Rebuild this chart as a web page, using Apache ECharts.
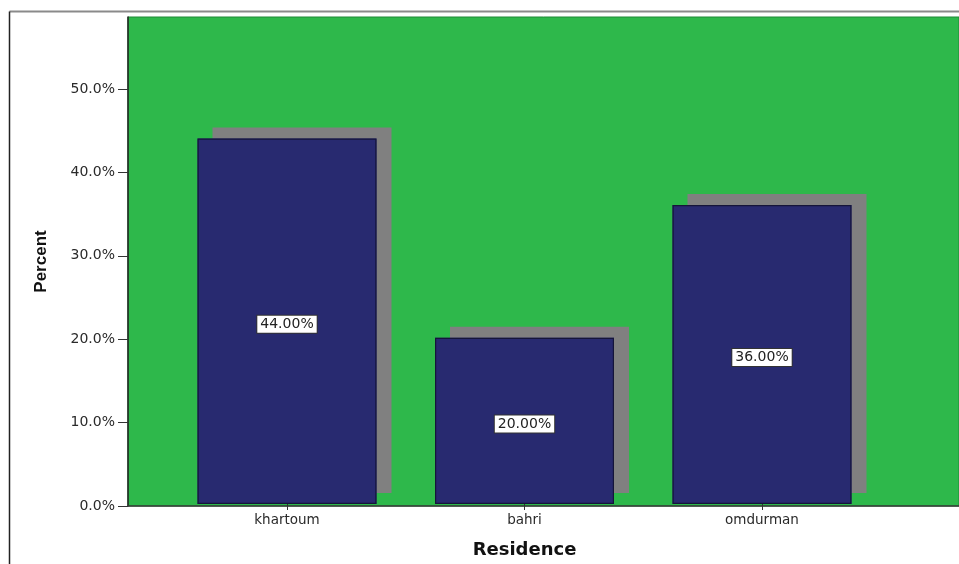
<!DOCTYPE html>
<html>
<head>
<meta charset="utf-8">
<title>Residence</title>
<script src="https://cdn.jsdelivr.net/npm/echarts@6/dist/echarts.min.js"></script>
<style>
  html, body { margin: 0; padding: 0; background: #ffffff; }
  #chart { width: 959px; height: 564px; }
</style>
</head>
<body>
<div id="chart"></div>
<script>
// Residence distribution (percent of respondents)
const categories = ['khartoum', 'bahri', 'omdurman'];
const percents = [44.0, 20.0, 36.0];
const yTicks = [0, 10, 20, 30, 40, 50];

const Y_MAX = 58.63;
const GREEN = '#2eb84b';
const NAVY = '#282a70';
const SHADOW = '#808080';

const chart = echarts.init(document.getElementById('chart'), null, { renderer: 'canvas' });

const option = {
  animation: false,
  backgroundColor: '#ffffff',
  graphic: [
    // outer frame: top and left edges
    { type: 'line', shape: { x1: 9.5, y1: 11.5, x2: 959, y2: 11.5 }, style: { stroke: '#8a8a8a', lineWidth: 2 }, silent: true },
    { type: 'line', shape: { x1: 9.5, y1: 11.5, x2: 9.5, y2: 564 }, style: { stroke: '#222222', lineWidth: 1.5 }, silent: true }
  ],
  grid: [
    // plot background with the percent axis
    { left: 128, right: -20, top: 17, bottom: 58, show: true, backgroundColor: GREEN, borderColor: '#1f8a37', borderWidth: 1 },
    // category band for the bars
    { left: 168.25, width: 712.5, top: 17, bottom: 58 }
  ],
  xAxis: [
    {
      gridIndex: 0, type: 'value', min: 0, max: 1,
      axisLine: { show: true, lineStyle: { color: '#3a3a3a', width: 1.5 } },
      axisTick: { show: false }, axisLabel: { show: false }, splitLine: { show: false }
    },
    {
      gridIndex: 1, type: 'category', data: categories,
      name: 'Residence', nameLocation: 'middle', nameGap: 37,
      nameTextStyle: { fontFamily: 'DejaVu Sans', fontWeight: 'bold', fontSize: 18, color: '#111111' },
      axisLine: { show: false },
      axisTick: { show: true, alignWithLabel: true, length: 6, lineStyle: { color: '#333333' } },
      axisLabel: { fontFamily: 'DejaVu Sans', fontSize: 13.5, color: '#2a2a2a', margin: 9 },
      splitLine: { show: false }
    }
  ],
  yAxis: [
    {
      gridIndex: 0, type: 'value', min: 0, max: Y_MAX, interval: 10,
      name: 'Percent', nameLocation: 'middle', nameGap: 78, nameRotate: 90,
      nameTextStyle: { fontFamily: 'Liberation Sans', fontWeight: 'bold', fontSize: 17, color: '#111111' },
      axisLine: { show: true, lineStyle: { color: '#222222', width: 1.5 } },
      axisTick: { show: true, length: 10, lineStyle: { color: '#333333' } },
      axisLabel: {
        fontFamily: 'DejaVu Sans', fontSize: 14, color: '#2a2a2a', margin: 13,
        showMaxLabel: false,
        formatter: v => (yTicks.indexOf(v) >= 0 ? v.toFixed(1) + '%' : '')
      },
      splitLine: { show: false }
    },
    {
      gridIndex: 1, type: 'value', min: 0, max: Y_MAX, interval: 10, show: false
    }
  ],
  series: [
    {
      // filled bars with a hard drop shadow
      type: 'bar', xAxisIndex: 1, yAxisIndex: 1, data: percents,
      barWidth: 179,
      itemStyle: {
        color: NAVY, borderWidth: 0,
        shadowColor: SHADOW, shadowBlur: 0, shadowOffsetX: 15, shadowOffsetY: -11
      },
      emphasis: { disabled: true },
      silent: true, z: 2
    },
    {
      // bar outlines and value labels
      type: 'bar', xAxisIndex: 1, yAxisIndex: 1, data: percents,
      barWidth: 179, barGap: '-100%',
      itemStyle: { color: 'rgba(0,0,0,0)', borderColor: '#15153a', borderWidth: 1.2 },
      label: {
        show: true, position: 'inside', offset: [0, 3],
        formatter: p => p.value.toFixed(2) + '%',
        fontFamily: 'DejaVu Sans', fontSize: 14, color: '#222222',
        backgroundColor: '#ffffff', borderColor: '#333333', borderWidth: 1,
        padding: [2, 3, 1, 3]
      },
      emphasis: { disabled: true },
      silent: true, z: 3
    }
  ]
};

chart.setOption(option);
</script>
</body>
</html>
